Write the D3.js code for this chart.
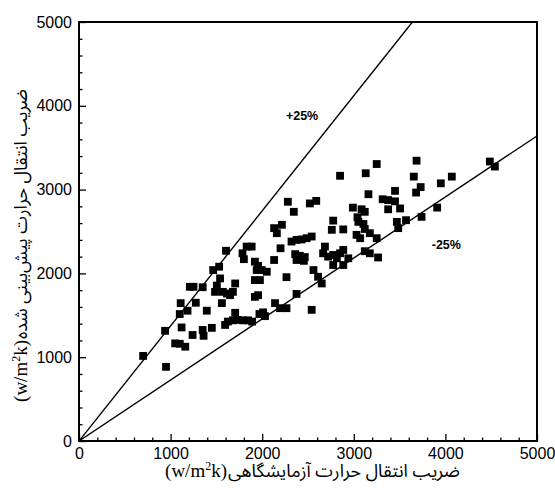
<!DOCTYPE html>
<html><head><meta charset="utf-8">
<script src="https://cdn.jsdelivr.net/npm/d3@7"></script>
<style>body{margin:0;background:#fff}svg{display:block}</style>
</head><body>
<svg id="chart" width="555" height="490"></svg>
<script>
// Experimental heat transfer coefficient (x) vs predicted (y), W/m2K
const expX = [700,950,940,1050,1100,1160,1120,1100,1185,1110,1210,1250,1275,1240,1350,1350,1360,1395,1450,1465,
  1530,1505,1540,1485,1570,1615,1650,1680,1705,1560,1605,1595,1625,1680,1735,1790,1845,1890,1705,1785,
  1830,1885,1800,1920,1940,1920,1920,1970,1955,1995,2050,1975,1955,2010,2030,2130,2215,2160,2320,2375,
  2430,2485,2540,2200,2360,2410,2465,2375,2130,2280,2345,2520,2590,2265,2375,2140,2195,2265,2540,2685,
  2665,2720,2775,2850,2885,2815,2775,2885,2940,2455,2560,2610,2650,2850,3130,3250,3450,3160,3315,3375,
  3450,3375,3505,2990,3085,3120,3040,3050,3105,3120,2775,2760,2885,3470,3570,3485,3175,3250,3030,3070,
  3120,3175,3265,3685,4485,4540,3655,4070,3950,3730,3680,3910,3740];
const predY = [1015,885,1315,1165,1160,1125,1355,1515,1555,1645,1840,1840,1650,1265,1835,1325,1255,1555,1350,2040,
  2080,1855,1940,1780,1780,1760,1740,1780,1880,1645,2270,1385,1425,1440,1445,1440,1440,1425,1530,2240,
  2320,2320,2170,2140,2040,1920,1720,1515,2090,2040,2020,1920,1740,1535,1490,2540,2580,2480,2380,2400,
  2405,2420,2440,2300,2230,2210,2195,2160,2160,2855,2735,2835,2865,1955,1755,1645,1585,1585,1565,2320,
  2240,2200,2220,2240,2280,2180,2100,2100,2180,2150,2040,1960,1880,3165,3195,3305,2985,2945,2885,2875,
  2860,2765,2775,2785,2765,2735,2670,2615,2590,2530,2630,2520,2525,2615,2635,2540,2480,2420,2460,2420,
  2265,2240,2190,3345,3335,3275,3155,3155,3075,3030,2965,2785,2675];

const majorTicks = [0,1000,2000,3000,4000,5000];
const minorTicks = d3.range(0, 5001, 200).filter(v => v % 1000 !== 0);

// deviation lines: end points and labels
const lineLabels = ["+25%", "-25%"];
const lineEndX = [3640, 5000];
const lineEndY = [5000, 3640];
const labelX = [2435, 4010];
const labelY = [3890, 2350];

const xTitle = "ضریب انتقال حرارت آزمایشگاهی";
const yTitle = "ضریب انتقال حرارت پیش‌بینی شده";

const svg = d3.select("#chart");
const L = 79, R = 537, T = 22, B = 441;
const x = d3.scaleLinear().domain([0, 5000]).range([L, R]);
const y = d3.scaleLinear().domain([0, 5000]).range([B, T]);

const tickFont = "'Liberation Sans', Arial, sans-serif";

// axes
const gx = svg.append("g").attr("transform", `translate(0,${B})`)
  .call(d3.axisBottom(x).tickValues(majorTicks).tickSize(-7).tickSizeOuter(0).tickPadding(7).tickFormat(d3.format("d")));
const gxm = svg.append("g").attr("transform", `translate(0,${B})`)
  .call(d3.axisBottom(x).tickValues(minorTicks).tickSize(-3.5).tickSizeOuter(0).tickFormat(""));
const gy = svg.append("g").attr("transform", `translate(${L},0)`)
  .call(d3.axisLeft(y).tickValues(majorTicks).tickSize(-7).tickSizeOuter(0).tickPadding(7).tickFormat(d3.format("d")));
const gym = svg.append("g").attr("transform", `translate(${L},0)`)
  .call(d3.axisLeft(y).tickValues(minorTicks).tickSize(-3.5).tickSizeOuter(0).tickFormat(""));
[gx, gxm, gy, gym].forEach(g => {
  g.select(".domain").remove();
  g.selectAll("line").attr("stroke", "#000").attr("stroke-width", 1.3);
  g.selectAll("text").attr("fill", "#000").style("font-family", tickFont).style("font-size", "16px");
});

// frame
svg.append("rect").attr("x", L).attr("y", T).attr("width", R - L).attr("height", B - T)
  .attr("fill", "none").attr("stroke", "#000").attr("stroke-width", 2);

// deviation lines
svg.append("clipPath").attr("id", "pc").append("rect")
  .attr("x", L).attr("y", T).attr("width", R - L).attr("height", B - T);
svg.append("g").attr("clip-path", "url(#pc)").selectAll("line").data(lineLabels).join("line")
  .attr("x1", x(0)).attr("y1", y(0))
  .attr("x2", (d, i) => x(lineEndX[i])).attr("y2", (d, i) => y(lineEndY[i]))
  .attr("stroke", "#000").attr("stroke-width", 1.4);

svg.selectAll("text.devlab").data(lineLabels).join("text").attr("class", "devlab")
  .attr("x", (d, i) => x(labelX[i])).attr("y", (d, i) => y(labelY[i]) + 4.5)
  .attr("text-anchor", "middle")
  .style("font-family", tickFont).style("font-size", "12.5px").style("font-weight", "bold")
  .text(d => d);

// points
const s = 7.8;
svg.append("g").selectAll("rect").data(expX).join("rect")
  .attr("x", (d) => x(d) - s / 2).attr("y", (d, i) => y(predY[i]) - s / 2)
  .attr("width", s).attr("height", s).attr("fill", "#000");

// titles
const faFont = "'Noto Sans Arabic','DejaVu Sans',sans-serif";
const unitFont = "'Liberation Serif','Times New Roman',serif";

function unitsText(g, xEnd, baseY) {
  const t = g.append("text").attr("x", xEnd).attr("y", baseY).attr("text-anchor", "end")
    .style("font-family", unitFont).style("font-size", "19px").attr("fill", "#000");
  t.append("tspan").text("(w/m");
  t.append("tspan").attr("dy", -7).style("font-size", "12px").text("2");
  t.append("tspan").attr("dy", 7).text("k)");
  return t;
}

// x title
{
  const g = svg.append("g");
  unitsText(g, 227, 477);
  const t = g.append("text").attr("x", 0).attr("y", 477)
    .style("font-family", faFont).style("font-size", "16px").attr("fill", "#000").text(xTitle);
  let bb = t.node().getBBox();
  const fs = 16 * 232 / bb.width;
  t.style("font-size", fs + "px");
  bb = t.node().getBBox();
  t.attr("x", 228 - bb.x);
}
// y title (rotated)
{
  const g = svg.append("g").attr("transform", "translate(27,0) rotate(-90)");
  unitsText(g, -340, 0);
  const t = g.append("text").attr("x", 0).attr("y", 0)
    .style("font-family", faFont).style("font-size", "16px").attr("fill", "#000").text(yTitle);
  let bb = t.node().getBBox();
  const fs = 16 * 250 / bb.width;
  t.style("font-size", fs + "px");
  bb = t.node().getBBox();
  t.attr("x", -339 - bb.x);
}
</script>
</body></html>
